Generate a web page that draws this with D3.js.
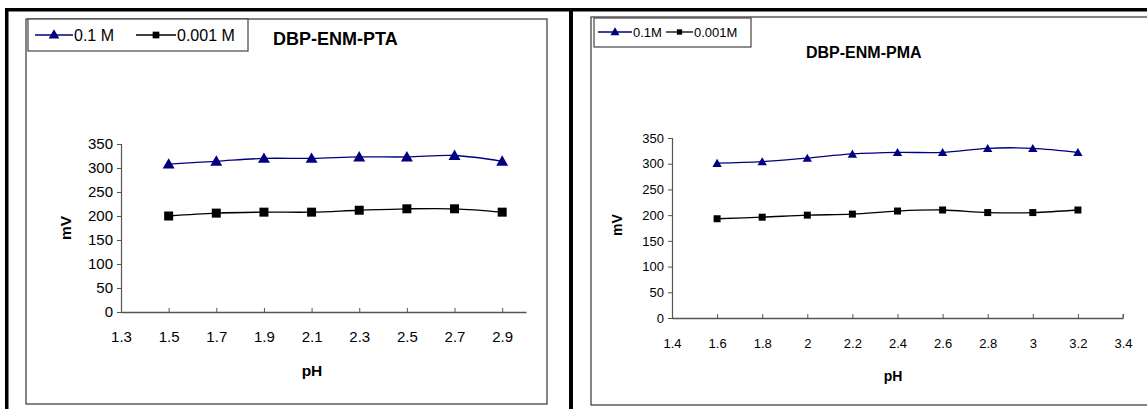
<!DOCTYPE html>
<html>
<head>
<meta charset="utf-8">
<script src="https://cdn.jsdelivr.net/npm/d3@7"></script>
<style>
  html, body { margin: 0; padding: 0; background: #fff; }
  svg { display: block; font-family: Arial, "Liberation Sans", sans-serif; }
</style>
</head>
<body>
<svg id="chart" width="1147" height="409"></svg>
<script>
// ---- Data: left panel (DBP-ENM-PTA) ----
const ptaTitle = "DBP-ENM-PTA";
const ptaPH = [1.5, 1.7, 1.9, 2.1, 2.3, 2.5, 2.7, 2.9];
const ptaHigh = [308, 314, 320, 320, 323, 323, 326, 314];   // 0.1 M
const ptaLow  = [200, 206, 208, 208, 212, 215, 215, 208];   // 0.001 M
const ptaSeriesNames = ["0.1 M", "0.001 M"];
const ptaXTicks = [1.3, 1.5, 1.7, 1.9, 2.1, 2.3, 2.5, 2.7, 2.9];

// ---- Data: right panel (DBP-ENM-PMA) ----
const pmaTitle = "DBP-ENM-PMA";
const pmaPH = [1.6, 1.8, 2.0, 2.2, 2.4, 2.6, 2.8, 3.0, 3.2];
const pmaHigh = [301, 304, 311, 319, 322, 322, 330, 330, 322]; // 0.1M
const pmaLow  = [193, 196, 200, 202, 208, 210, 205, 205, 210]; // 0.001M
const pmaSeriesNames = ["0.1M", "0.001M"];
const pmaXTicks = [1.4, 1.6, 1.8, 2.0, 2.2, 2.4, 2.6, 2.8, 3.0, 3.2, 3.4];

const yTicks = [0, 50, 100, 150, 200, 250, 300, 350];

const svg = d3.select("#chart");

// outer table frame
svg.append("rect").attr("x", 5).attr("y", 8).attr("width", 1142).attr("height", 3.5).attr("fill", "#000");
svg.append("rect").attr("x", 5).attr("y", 8).attr("width", 3.5).attr("height", 401).attr("fill", "#000");
svg.append("rect").attr("x", 569).attr("y", 8).attr("width", 4).attr("height", 401).attr("fill", "#000");

function drawPanel(cfg) {
  const g = svg.append("g");
  // chart area box
  g.append("rect")
    .attr("x", cfg.box[0]).attr("y", cfg.box[1])
    .attr("width", cfg.box[2]).attr("height", cfg.box[3])
    .attr("fill", "#fff").attr("stroke", "#444").attr("stroke-width", 1.3);

  const x = d3.scaleLinear().domain(cfg.xDomain).range(cfg.xRange);
  const y = d3.scaleLinear().domain([0, 350]).range(cfg.yRange);

  // y axis
  const yAxis = d3.axisLeft(y).tickValues(yTicks).tickSize(4).tickPadding(4).tickFormat(d3.format("d"));
  const ya = g.append("g").attr("transform", `translate(${cfg.xRange[0]},0)`).call(yAxis);
  ya.select(".domain").attr("stroke", "#555").attr("stroke-width", 1.2);
  ya.selectAll(".tick line").attr("stroke", "#555");
  ya.selectAll("text").attr("font-size", cfg.tickFont).attr("fill", "#000")
    .attr("font-family", "Arial, 'Liberation Sans', sans-serif");

  // x axis (ticks pointing up into plot)
  const xAxis = d3.axisBottom(x).tickValues(cfg.xTicks).tickSize(-4).tickSizeOuter(0).tickPadding(0)
    .tickFormat(cfg.xFormat);
  const xa = g.append("g").attr("transform", `translate(0,${cfg.yRange[0]})`).call(xAxis);
  xa.select(".domain").attr("stroke", "#555").attr("stroke-width", 1.5);
  xa.selectAll(".tick line").attr("stroke", "#555");
  xa.selectAll("text").attr("font-size", cfg.tickFont).attr("fill", "#000")
    .attr("dy", null).attr("y", cfg.xLabelDy)
    .attr("font-family", "Arial, 'Liberation Sans', sans-serif");
  if (cfg.axisEndTick) {
    xa.append("line").attr("x1", cfg.xRange[1]).attr("x2", cfg.xRange[1])
      .attr("y1", 0).attr("y2", -4).attr("stroke", "#555");
  }

  // axis titles
  g.append("text").attr("x", cfg.pHPos[0]).attr("y", cfg.pHPos[1])
    .attr("text-anchor", "middle").attr("font-weight", "bold").attr("font-size", cfg.axisTitleFont)
    .text("pH");
  g.append("text")
    .attr("transform", `translate(${cfg.mVPos[0]},${cfg.mVPos[1]}) rotate(-90)`)
    .attr("text-anchor", "middle").attr("font-weight", "bold").attr("font-size", cfg.axisTitleFont)
    .text("mV");

  // title
  g.append("text").attr("x", cfg.titlePos[0]).attr("y", cfg.titlePos[1])
    .attr("text-anchor", "start").attr("font-weight", "bold").attr("font-size", cfg.titleFont)
    .text(cfg.title);

  const line = d3.line().x(d => x(d[0])).y(d => y(d[1])).curve(d3.curveCatmullRom.alpha(0.5));
  const series = [
    { vals: cfg.high, color: "#000080", shape: "tri", name: cfg.names[0] },
    { vals: cfg.low,  color: "#000000", shape: "sq",  name: cfg.names[1] }
  ];
  series.forEach(s => {
    const pts = cfg.ph.map((p, i) => [p, s.vals[i]]);
    g.append("path").attr("d", line(pts)).attr("fill", "none")
      .attr("stroke", s.color).attr("stroke-width", 1.3);
    const sym = d3.symbol().type(s.shape === "tri" ? d3.symbolTriangle : d3.symbolSquare)
      .size(s.shape === "tri" ? cfg.triSize : cfg.sqSize);
    g.selectAll(null).data(pts).enter().append("path")
      .attr("d", sym)
      .attr("transform", d => `translate(${x(d[0])},${y(d[1]) + (s.shape === "tri" ? 1 : 0)})`)
      .attr("fill", s.color);
  });

  // legend
  const L = cfg.legend;
  const lg = g.append("g");
  lg.append("rect").attr("x", L.box[0]).attr("y", L.box[1]).attr("width", L.box[2]).attr("height", L.box[3])
    .attr("fill", "#fff").attr("stroke", "#444").attr("stroke-width", 1.2);
  series.forEach((s, i) => {
    const lx = L.items[i];
    const len = L.lineLen[i];
    const ly = L.lineY;
    lg.append("line").attr("x1", lx).attr("x2", lx + len).attr("y1", ly).attr("y2", ly)
      .attr("stroke", s.color).attr("stroke-width", 1.3);
    const sym = d3.symbol().type(s.shape === "tri" ? d3.symbolTriangle : d3.symbolSquare)
      .size(s.shape === "tri" ? L.triSize : L.sqSize);
    lg.append("path").attr("d", sym)
      .attr("transform", `translate(${lx + len / 2},${ly + (s.shape === "tri" ? 0.5 : 0)})`)
      .attr("fill", s.color);
    lg.append("text").attr("x", lx + len + 1).attr("y", ly + L.font * 0.36)
      .attr("font-size", L.font).text(s.name);
  });
}

drawPanel({
  box: [26, 19, 521, 385],
  xDomain: [1.3, 3.0], xRange: [121, 526], yRange: [312, 144],
  xTicks: ptaXTicks, xFormat: d3.format(".1f"),
  tickFont: 15, xLabelDy: 30, axisEndTick: false,
  pHPos: [312, 376], mVPos: [71, 228], axisTitleFont: 15.5,
  titlePos: [273, 45], titleFont: 18, title: ptaTitle,
  ph: ptaPH, high: ptaHigh, low: ptaLow, names: ptaSeriesNames,
  triSize: 62, sqSize: 81,
  legend: { box: [28, 19, 220, 32], items: [35, 136], lineLen: [38, 40], lineY: 35, font: 16, triSize: 50, sqSize: 45 }
});

drawPanel({
  box: [591, 17, 570, 388],
  xDomain: [1.4, 3.4], xRange: [672, 1123], yRange: [318, 138],
  xTicks: pmaXTicks, xFormat: d => (Number.isInteger(d) ? d3.format("d")(d) : d3.format(".1f")(d)),
  tickFont: 13, xLabelDy: 30, axisEndTick: true,
  pHPos: [893, 381], mVPos: [622, 225], axisTitleFont: 14,
  titlePos: [806, 58], titleFont: 16, title: pmaTitle,
  ph: pmaPH, high: pmaHigh, low: pmaLow, names: pmaSeriesNames,
  triSize: 38, sqSize: 49,
  legend: { box: [594, 18, 157, 29], items: [598, 666], lineLen: [34, 27], lineY: 32, font: 13, triSize: 36, sqSize: 28 }
});
</script>
</body>
</html>
